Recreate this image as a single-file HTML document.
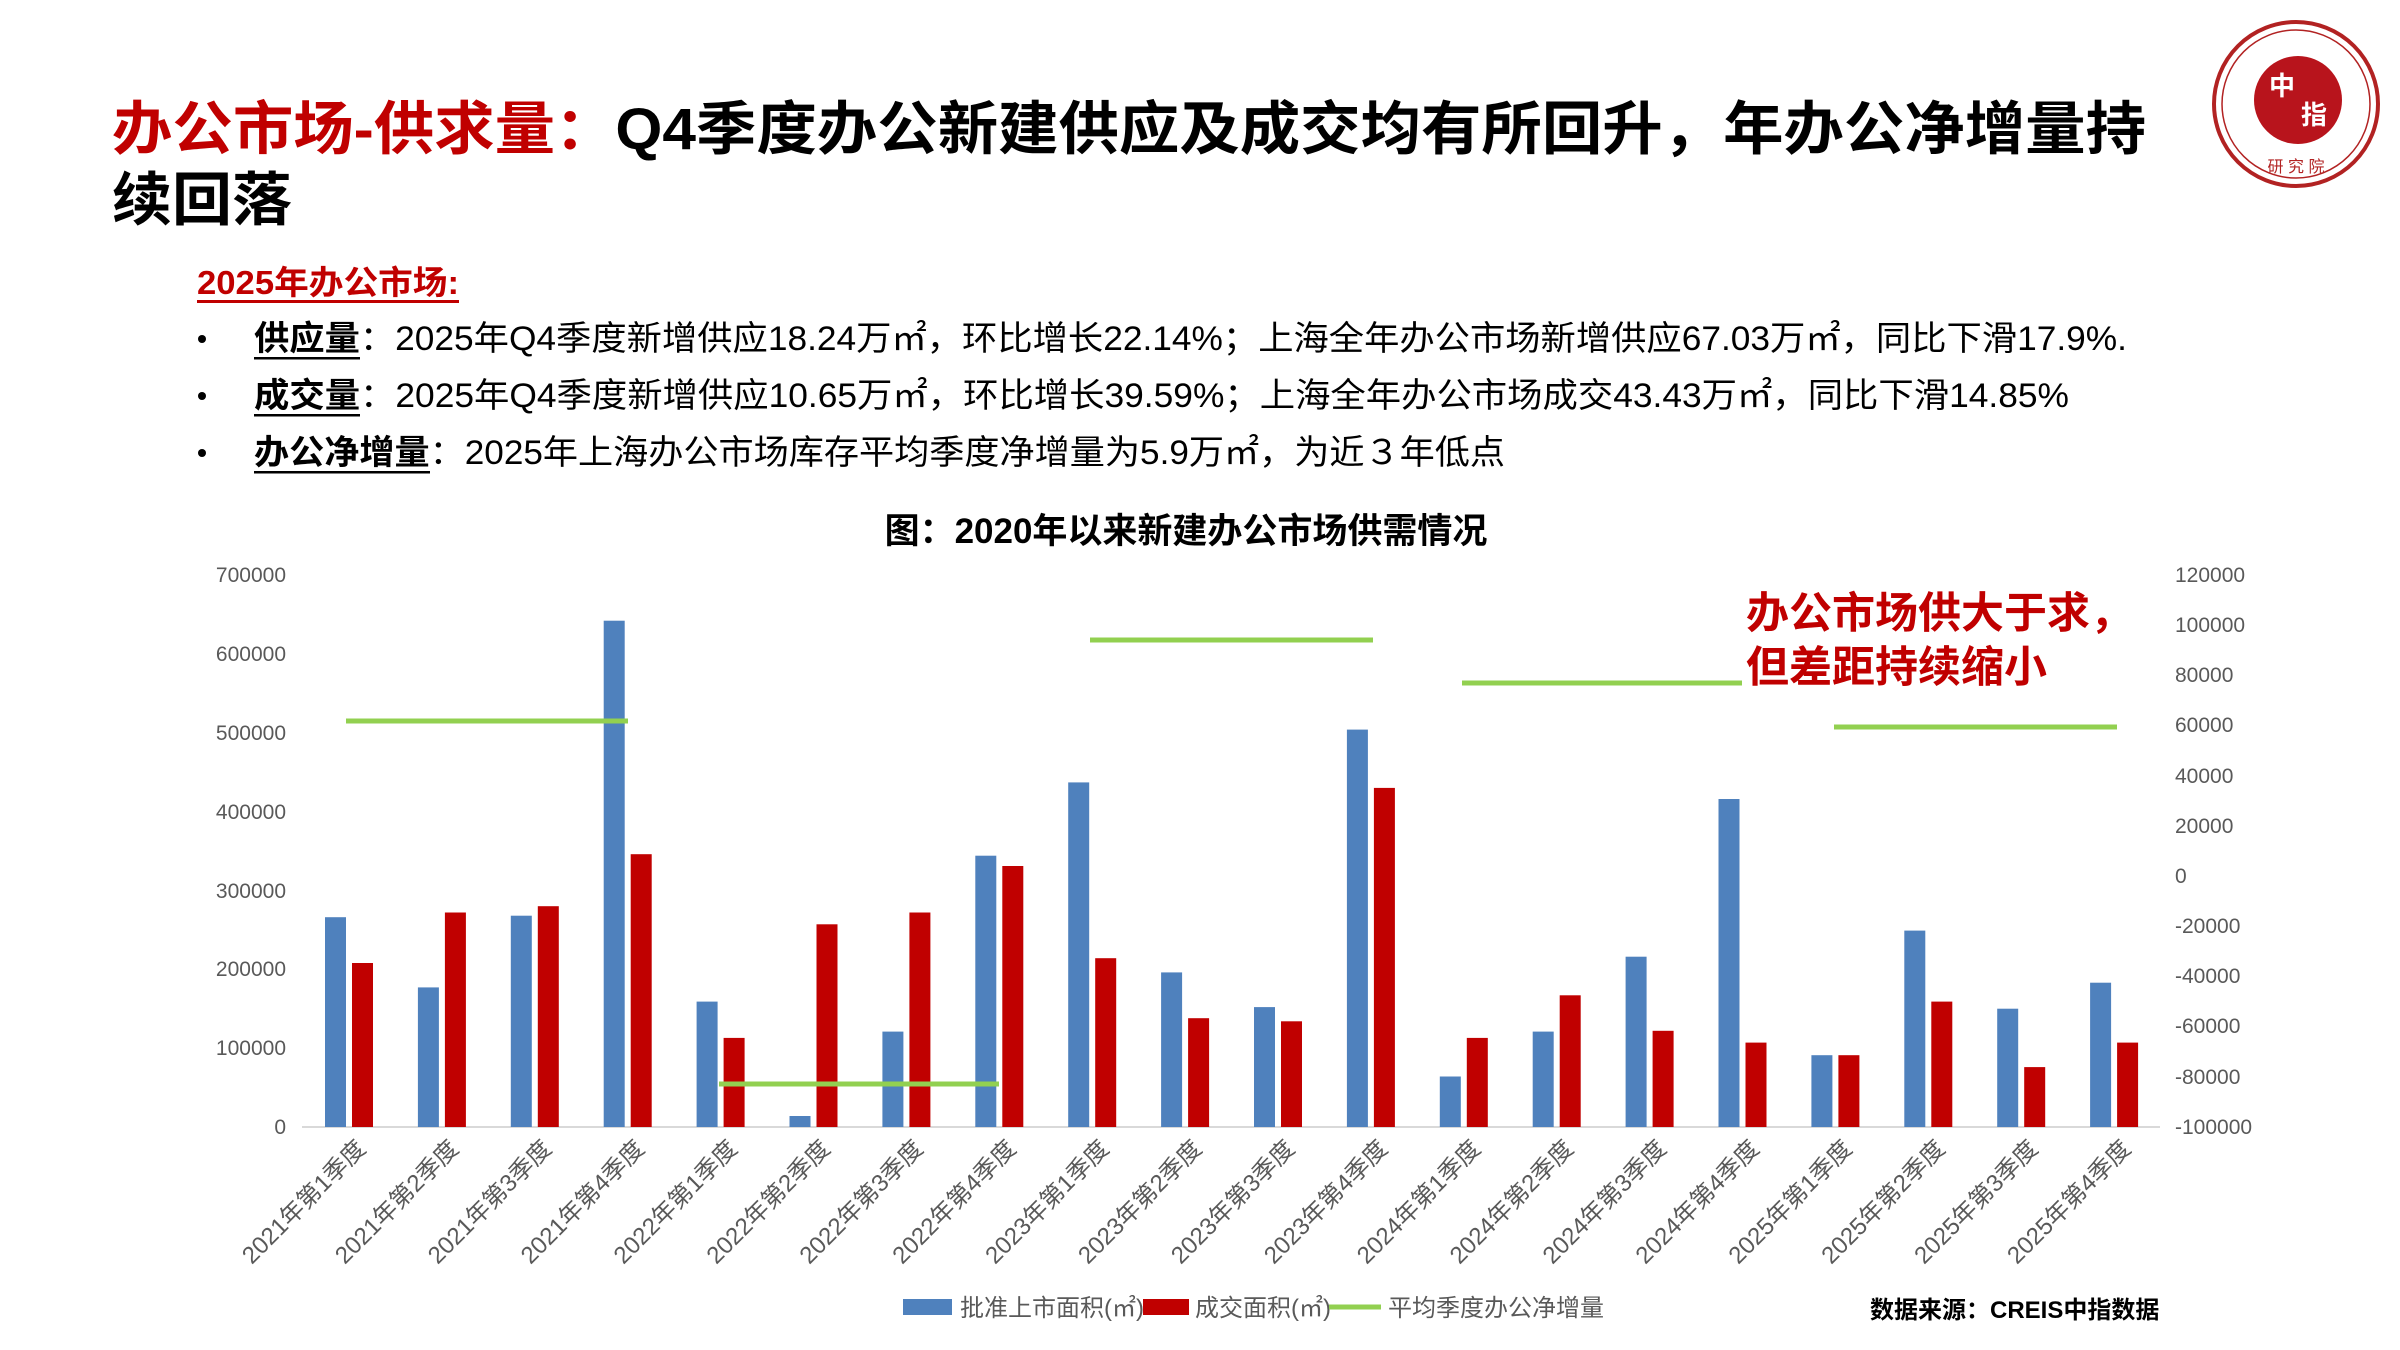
<!DOCTYPE html>
<html><head><meta charset="utf-8"><style>
html,body{margin:0;padding:0;background:#fff;width:2400px;height:1350px;overflow:hidden}
svg{display:block}
text{font-family:"Liberation Sans","Noto Sans CJK SC",sans-serif}
</style></head><body>
<svg width="2400" height="1350" viewBox="0 0 2400 1350" xmlns="http://www.w3.org/2000/svg">
<rect width="2400" height="1350" fill="#fff"/>
<text x="112" y="149" font-size="58" font-weight="bold" textLength="2034" lengthAdjust="spacingAndGlyphs"><tspan fill="#c00000">办公市场-供求量：</tspan><tspan fill="#000">Q4季度办公新建供应及成交均有所回升，年办公净增量持</tspan></text>
<text x="112" y="220" font-size="58" font-weight="bold" fill="#000" textLength="180" lengthAdjust="spacingAndGlyphs">续回落</text>
<g>
<circle cx="2296" cy="104" r="82" fill="#fff" stroke="#b22222" stroke-width="4"/>
<circle cx="2296" cy="104" r="74" fill="none" stroke="#b22222" stroke-width="1.5"/>
<circle cx="2298" cy="100" r="44" fill="#b8141c"/>
<text x="2282" y="95" font-size="26" fill="#fff" text-anchor="middle" font-weight="bold">中</text>
<text x="2314" y="124" font-size="26" fill="#fff" text-anchor="middle" font-weight="bold">指</text>
<text x="2296" y="172" font-size="16" fill="#b22222" text-anchor="middle">研 究 院</text>
</g>
<text x="197" y="294" font-size="33" font-weight="bold" fill="#c00000" textLength="262" lengthAdjust="spacingAndGlyphs">2025年办公市场:</text>
<rect x="197" y="300" width="262" height="3" fill="#c00000"/>
<circle cx="202" cy="339" r="4" fill="#000"/>
<circle cx="202" cy="396" r="4" fill="#000"/>
<circle cx="202" cy="453" r="4" fill="#000"/>
<text x="254" y="350" font-size="34" fill="#000" textLength="1873" lengthAdjust="spacingAndGlyphs"><tspan font-weight="bold">供应量</tspan>：2025年Q4季度新增供应18.24万㎡，环比增长22.14%；上海全年办公市场新增供应67.03万㎡，同比下滑17.9%.</text>
<rect x="254" y="357" width="106" height="2.5" fill="#000"/>
<text x="254" y="407" font-size="34" fill="#000" textLength="1815" lengthAdjust="spacingAndGlyphs"><tspan font-weight="bold">成交量</tspan>：2025年Q4季度新增供应10.65万㎡，环比增长39.59%；上海全年办公市场成交43.43万㎡，同比下滑14.85%</text>
<rect x="254" y="414" width="106" height="2.5" fill="#000"/>
<text x="254" y="464" font-size="34" fill="#000" textLength="1251" lengthAdjust="spacingAndGlyphs"><tspan font-weight="bold">办公净增量</tspan>：2025年上海办公市场库存平均季度净增量为5.9万㎡，为近３年低点</text>
<rect x="254" y="471" width="176" height="2.5" fill="#000"/>
<text x="1186" y="543" font-size="35" font-weight="bold" fill="#000" text-anchor="middle">图：2020年以来新建办公市场供需情况</text>
<text x="1746" y="628" font-size="43" font-weight="bold" fill="#c00000">办公市场供大于求，</text>
<text x="1746" y="682" font-size="43" font-weight="bold" fill="#c00000">但差距持续缩小</text>
<g font-size="21" fill="#595959" text-anchor="end">
<text x="286" y="582">700000</text>
<text x="286" y="661">600000</text>
<text x="286" y="740">500000</text>
<text x="286" y="819">400000</text>
<text x="286" y="898">300000</text>
<text x="286" y="976">200000</text>
<text x="286" y="1055">100000</text>
<text x="286" y="1134">0</text>
</g>
<g font-size="21" fill="#595959" text-anchor="start">
<text x="2175" y="582">120000</text>
<text x="2175" y="632">100000</text>
<text x="2175" y="682">80000</text>
<text x="2175" y="732">60000</text>
<text x="2175" y="783">40000</text>
<text x="2175" y="833">20000</text>
<text x="2175" y="883">0</text>
<text x="2175" y="933">-20000</text>
<text x="2175" y="983">-40000</text>
<text x="2175" y="1033">-60000</text>
<text x="2175" y="1084">-80000</text>
<text x="2175" y="1134">-100000</text>
</g>
<line x1="302" y1="1127" x2="2160" y2="1127" stroke="#d9d9d9" stroke-width="2"/>
<g fill="#4f81bd">
<rect x="325" y="917.2" width="21" height="209.8"/>
<rect x="417.9" y="987.4" width="21" height="139.6"/>
<rect x="510.8" y="915.7" width="21" height="211.3"/>
<rect x="603.7" y="620.7" width="21" height="506.3"/>
<rect x="696.6" y="1001.6" width="21" height="125.4"/>
<rect x="789.5" y="1116" width="21" height="11"/>
<rect x="882.4" y="1031.6" width="21" height="95.4"/>
<rect x="975.3" y="855.7" width="21" height="271.3"/>
<rect x="1068.2" y="782.4" width="21" height="344.6"/>
<rect x="1161.1" y="972.4" width="21" height="154.6"/>
<rect x="1254" y="1007.1" width="21" height="119.9"/>
<rect x="1346.9" y="729.6" width="21" height="397.4"/>
<rect x="1439.8" y="1076.5" width="21" height="50.5"/>
<rect x="1532.7" y="1031.6" width="21" height="95.4"/>
<rect x="1625.6" y="956.7" width="21" height="170.3"/>
<rect x="1718.5" y="799" width="21" height="328"/>
<rect x="1811.4" y="1055.2" width="21" height="71.8"/>
<rect x="1904.3" y="930.6" width="21" height="196.4"/>
<rect x="1997.2" y="1008.7" width="21" height="118.3"/>
<rect x="2090.1" y="982.7" width="21" height="144.3"/>
</g>
<g fill="#c00000">
<rect x="352" y="963" width="21" height="164"/>
<rect x="444.9" y="912.5" width="21" height="214.5"/>
<rect x="537.8" y="906.2" width="21" height="220.8"/>
<rect x="630.7" y="854.2" width="21" height="272.8"/>
<rect x="723.6" y="1037.9" width="21" height="89.1"/>
<rect x="816.5" y="924.3" width="21" height="202.7"/>
<rect x="909.4" y="912.5" width="21" height="214.5"/>
<rect x="1002.3" y="866" width="21" height="261"/>
<rect x="1095.2" y="958.2" width="21" height="168.8"/>
<rect x="1188.1" y="1018.2" width="21" height="108.8"/>
<rect x="1281" y="1021.3" width="21" height="105.7"/>
<rect x="1373.9" y="787.9" width="21" height="339.1"/>
<rect x="1466.8" y="1037.9" width="21" height="89.1"/>
<rect x="1559.7" y="995.3" width="21" height="131.7"/>
<rect x="1652.6" y="1030.8" width="21" height="96.2"/>
<rect x="1745.5" y="1042.6" width="21" height="84.4"/>
<rect x="1838.4" y="1055.2" width="21" height="71.8"/>
<rect x="1931.3" y="1001.6" width="21" height="125.4"/>
<rect x="2024.2" y="1067.1" width="21" height="59.9"/>
<rect x="2117.1" y="1042.6" width="21" height="84.4"/>
</g>
<g stroke="#92d050" stroke-width="5">
<line x1="346" y1="721" x2="628" y2="721"/>
<line x1="719" y1="1084" x2="999" y2="1084"/>
<line x1="1090" y1="640" x2="1373" y2="640"/>
<line x1="1462" y1="683" x2="1742" y2="683"/>
<line x1="1834" y1="727" x2="2117" y2="727"/>
</g>
<g font-size="24" fill="#595959" text-anchor="end">
<text transform="translate(367,1150) rotate(-45)">2021年第1季度</text>
<text transform="translate(459.9,1150) rotate(-45)">2021年第2季度</text>
<text transform="translate(552.8,1150) rotate(-45)">2021年第3季度</text>
<text transform="translate(645.7,1150) rotate(-45)">2021年第4季度</text>
<text transform="translate(738.6,1150) rotate(-45)">2022年第1季度</text>
<text transform="translate(831.5,1150) rotate(-45)">2022年第2季度</text>
<text transform="translate(924.4,1150) rotate(-45)">2022年第3季度</text>
<text transform="translate(1017.3,1150) rotate(-45)">2022年第4季度</text>
<text transform="translate(1110.2,1150) rotate(-45)">2023年第1季度</text>
<text transform="translate(1203.1,1150) rotate(-45)">2023年第2季度</text>
<text transform="translate(1296,1150) rotate(-45)">2023年第3季度</text>
<text transform="translate(1388.9,1150) rotate(-45)">2023年第4季度</text>
<text transform="translate(1481.8,1150) rotate(-45)">2024年第1季度</text>
<text transform="translate(1574.7,1150) rotate(-45)">2024年第2季度</text>
<text transform="translate(1667.6,1150) rotate(-45)">2024年第3季度</text>
<text transform="translate(1760.5,1150) rotate(-45)">2024年第4季度</text>
<text transform="translate(1853.4,1150) rotate(-45)">2025年第1季度</text>
<text transform="translate(1946.3,1150) rotate(-45)">2025年第2季度</text>
<text transform="translate(2039.2,1150) rotate(-45)">2025年第3季度</text>
<text transform="translate(2132.1,1150) rotate(-45)">2025年第4季度</text>
</g>
<rect x="903" y="1299" width="49" height="16" fill="#4f81bd"/>
<text x="960" y="1316" font-size="24" fill="#595959">批准上市面积(㎡)</text>
<rect x="1143" y="1299" width="46" height="16" fill="#c00000"/>
<text x="1195" y="1316" font-size="24" fill="#595959">成交面积(㎡)</text>
<line x1="1329" y1="1307" x2="1381" y2="1307" stroke="#92d050" stroke-width="5"/>
<text x="1388" y="1316" font-size="24" fill="#595959">平均季度办公净增量</text>
<text x="1870" y="1318" font-size="24" font-weight="bold" fill="#000">数据来源：CREIS中指数据</text>
</svg>
</body></html>
